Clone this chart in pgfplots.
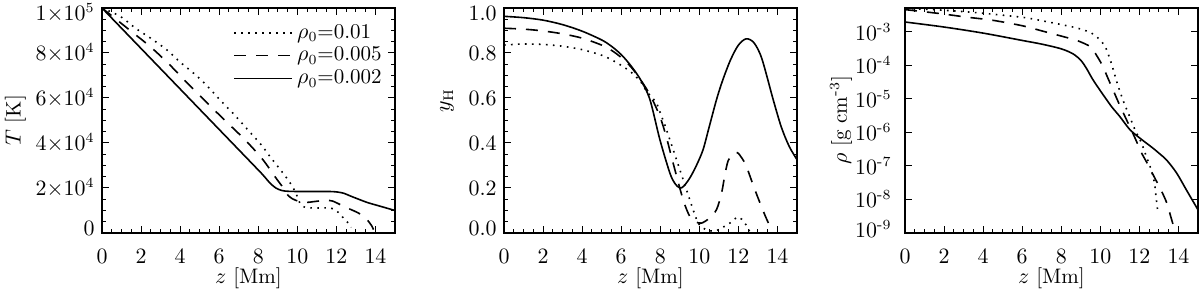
\documentclass[border=0pt]{standalone}
\usepackage{amsmath}
\usepackage{pgfplots}
\pgfplotsset{compat=1.18}
\tikzset{
  dotl/.style={black, line width=0.8pt, dash pattern=on 0.8pt off 2.7pt},
  dashl/.style={black, line width=0.8pt, dash pattern=on 6pt off 5pt},
  solidl/.style={black, line width=0.8pt},
}
\newcommand{\dn}[1]{\raisebox{-2.5pt}[\height][\depth]{#1}}
\newcommand{\up}[1]{\raisebox{2.5pt}[\height][\depth]{#1}}
\pgfplotsset{
  panel/.style={
    scale only axis, width=146.5pt, height=112.5pt,
    anchor=south west,
    xmin=0, xmax=15, xtick={0,2,...,14}, minor x tick num=3,
    tick align=inside, tick pos=both,
    major tick length=3.4pt, minor tick length=1.8pt,
    axis line style={line width=0.8pt},
    every tick/.style={black, line width=0.5pt},
    xticklabel style={yshift=-4.5pt},
    xlabel={$z$ [Mm]},
    every axis x label/.style={at={(axis description cs:0.5,-0.2)}, anchor=center},
    clip=true,
  }
}
\begin{document}
\fontsize{10.5}{12.6}\selectfont
\begin{tikzpicture}
\useasboundingbox (0,0) rectangle (600pt,146.5pt);
% ---------------- Panel 1: T ----------------
\begin{axis}[panel, at={(51pt,30pt)},
  ymin=0, ymax=100000, ytick={0,20000,40000,60000,80000,100000},
  yticklabels={\up{$0$},$2{\times}10^4$,$4{\times}10^4$,$6{\times}10^4$,$8{\times}10^4$,\dn{$1{\times}10^5$}},
  minor y tick num=3, scaled y ticks=false,
  ylabel={$T$ [K]},
  every axis y label/.style={at={(axis description cs:-0.296,0.5)}, rotate=90, anchor=center},
  legend style={draw=none, fill=none, at={(axis description cs:0.99,0.965)}, anchor=north east,
    row sep=-1.2pt, font=\fontsize{10.5}{12.6}\selectfont},
  legend cell align=left,
  legend image code/.code={\draw[#1] (0pt,0pt) -- (29pt,0pt);},
]
\addplot[dotl, smooth] coordinates {
(0,100000) (0.93,96300) (1.7,91100) (2.47,86700) (3.33,81300) (4.02,75800) (4.8,70200)
(5.4,65200) (6.08,58800) (6.77,52600) (7.46,45900) (8.15,39200) (8.66,33300) (9.26,26700)
(9.69,21500) (9.95,17200) (10.15,13000) (10.4,11400) (11.0,11100) (11.7,11100) (12.0,9900)
(12.2,8200) (12.45,5800) (12.65,4000) (12.75,2500)};
\addlegendentry{$\rho_0$=0.01}
\addplot[dashl, smooth] coordinates {
(0,100000) (1.4,90300) (2.5,82600) (3.46,74800) (4.35,66800) (5.3,58500) (6.3,50000)
(7.3,41600) (8.2,33000) (8.9,24500) (9.26,20300) (9.5,17000) (9.75,15200) (10.1,14000)
(10.5,13600) (10.8,13900) (11.2,14300) (11.5,14500) (11.8,14200) (12.2,12600) (12.5,11300)
(12.75,10400) (13.1,9000) (13.4,7400) (13.6,5600) (13.8,3300) (13.9,1500)};
\addlegendentry{$\rho_0$=0.005}
\addplot[solidl, smooth] coordinates {
(0,100000) (2,82000) (4,64000) (6,46000) (8,28000) (8.3,25200) (8.6,22200) (8.9,20000)
(9.2,18900) (9.6,18500) (10.5,18450) (11.3,18450) (11.8,18400) (12.1,18150) (12.4,17600)
(12.7,16500) (13.2,14800) (13.6,13500) (14.2,12000) (15,10000)};
\addlegendentry{$\rho_0$=0.002}
\end{axis}
% ---------------- Panel 2: y_H ----------------
\begin{axis}[panel, at={(252pt,30pt)},
  ymin=0, ymax=1.0, ytick={0,0.2,0.4,0.6,0.8,1.0},
  yticklabels={\up{$0.0$},$0.2$,$0.4$,$0.6$,$0.8$,\dn{$1.0$}},
  minor y tick num=3,
  ylabel={$y_{\mathrm{H}}$},
  every axis y label/.style={at={(axis description cs:-0.194,0.59)}, rotate=90, anchor=center},
]
\addplot[dotl, smooth] coordinates {
(0,0.835) (0.5,0.838) (1,0.84) (2,0.838) (3,0.83) (4,0.815) (5,0.79) (5.5,0.77) (6,0.745)
(6.5,0.715) (7,0.672) (7.3,0.63) (7.6,0.6) (7.81,0.577) (8.06,0.52) (8.32,0.459) (8.83,0.326)
(9.34,0.193) (9.68,0.104) (9.94,0.044) (10.19,0.022) (10.5,0.01) (10.85,0.01) (11.14,0.022)
(11.56,0.044) (11.99,0.071) (12.33,0.044) (12.58,0.007) (12.8,0.002)};
\addplot[dashl, smooth] coordinates {
(0,0.91) (1,0.906) (2,0.898) (3,0.885) (4,0.866) (5,0.835) (5.5,0.812) (6,0.78) (6.5,0.738)
(7,0.68) (7.5,0.61) (7.98,0.518) (8.3,0.43) (8.66,0.31) (9.17,0.148) (9.51,0.074) (9.8,0.05)
(10.11,0.044) (10.5,0.065) (10.88,0.104) (11.14,0.178) (11.3,0.255) (11.47,0.32) (11.7,0.35)
(11.95,0.357) (12.2,0.33) (12.41,0.296) (12.84,0.193) (13.35,0.081) (13.69,0.015)};
\addplot[solidl, smooth] coordinates {
(0,0.963) (1,0.957) (2,0.946) (3,0.926) (4,0.897) (5,0.858) (5.5,0.83) (6,0.793) (6.5,0.743)
(7,0.68) (7.47,0.593) (7.98,0.415) (8.49,0.267) (8.75,0.22) (9.0,0.2) (9.2,0.208) (9.51,0.244)
(9.85,0.3) (10.19,0.37) (10.5,0.47) (10.88,0.593) (11.2,0.68) (11.6,0.77) (12.0,0.835)
(12.4,0.863) (12.8,0.845) (13.2,0.775) (13.78,0.593) (14.2,0.47) (14.6,0.385) (15,0.326)};
\end{axis}
% ---------------- Panel 3: rho ----------------
\begin{axis}[panel, at={(452.5pt,30pt)},
  ymode=log, ymin=1e-9, ymax=5.1e-3,
  ytick={1e-9,1e-8,1e-7,1e-6,1e-5,1e-4,1e-3},
  yticklabels={\raisebox{2pt}[\height][\depth]{$10^{\text{-}9}$},$10^{\text{-}8}$,$10^{\text{-}7}$,$10^{\text{-}6}$,$10^{\text{-}5}$,$10^{\text{-}4}$,$10^{\text{-}3}$},
  yminorticks=false,
  yticklabel style={xshift=-3pt},
  ylabel={$\rho$ [g cm$^{\text{-}3}$]},
  every axis y label/.style={at={(axis description cs:-0.218,0.5)}, rotate=90, anchor=center},
]
\addplot[dotl, smooth] coordinates {
(0,4.95e-3) (2,4.37e-3) (4,3.55e-3) (6,2.69e-3) (6.9,2.19e-3) (8.6,1.38e-3) (9.3,1.05e-3)
(9.6,8.7e-4) (10.0,5.6e-4) (10.3,3.1e-4) (10.6,9.8e-5) (10.85,3.1e-5) (11.2,7.9e-6)
(11.56,2.45e-6) (11.8,1.1e-6) (12.1,4.9e-7) (12.35,1.95e-7) (12.6,7.8e-8) (12.77,3.1e-8)
(12.85,1.23e-8) (12.94,4.4e-9)};
\addplot[dashl, smooth] coordinates {
(0,4.57e-3) (1.8,3.47e-3) (3.1,2.75e-3) (4.5,2.19e-3) (6.0,1.51e-3) (6.9,1.10e-3)
(8.2,6.9e-4) (8.8,5.5e-4) (9.5,3.55e-4) (9.8,2.0e-4) (10.1,1.0e-4) (10.4,3.98e-5)
(10.7,1.58e-5) (11.0,6.3e-6) (11.4,2.0e-6) (11.8,6.3e-7) (12.1,2.5e-7) (12.4,1.2e-7)
(12.75,4.8e-8) (13.1,1.95e-8) (13.4,7.9e-9) (13.6,3.16e-9) (13.85,1.0e-9)};
\addplot[solidl, smooth] coordinates {
(0,1.95e-3) (2,1.38e-3) (4,9.1e-4) (6,5.5e-4) (7,4.27e-4) (8,3.09e-4) (8.6,2.19e-4)
(9.0,1.41e-4) (9.3,7.9e-5) (9.6,3.89e-5) (10.0,1.74e-5) (10.3,9.8e-6) (10.6,5.6e-6)
(11.0,2.95e-6) (11.5,1.23e-6) (12.0,6.9e-7) (12.67,3.47e-7) (13.0,2.4e-7) (13.4,1.48e-7)
(13.9,6.2e-8) (14.4,1.95e-8) (15.0,4.9e-9)};
\end{axis}
\end{tikzpicture}
\end{document}
